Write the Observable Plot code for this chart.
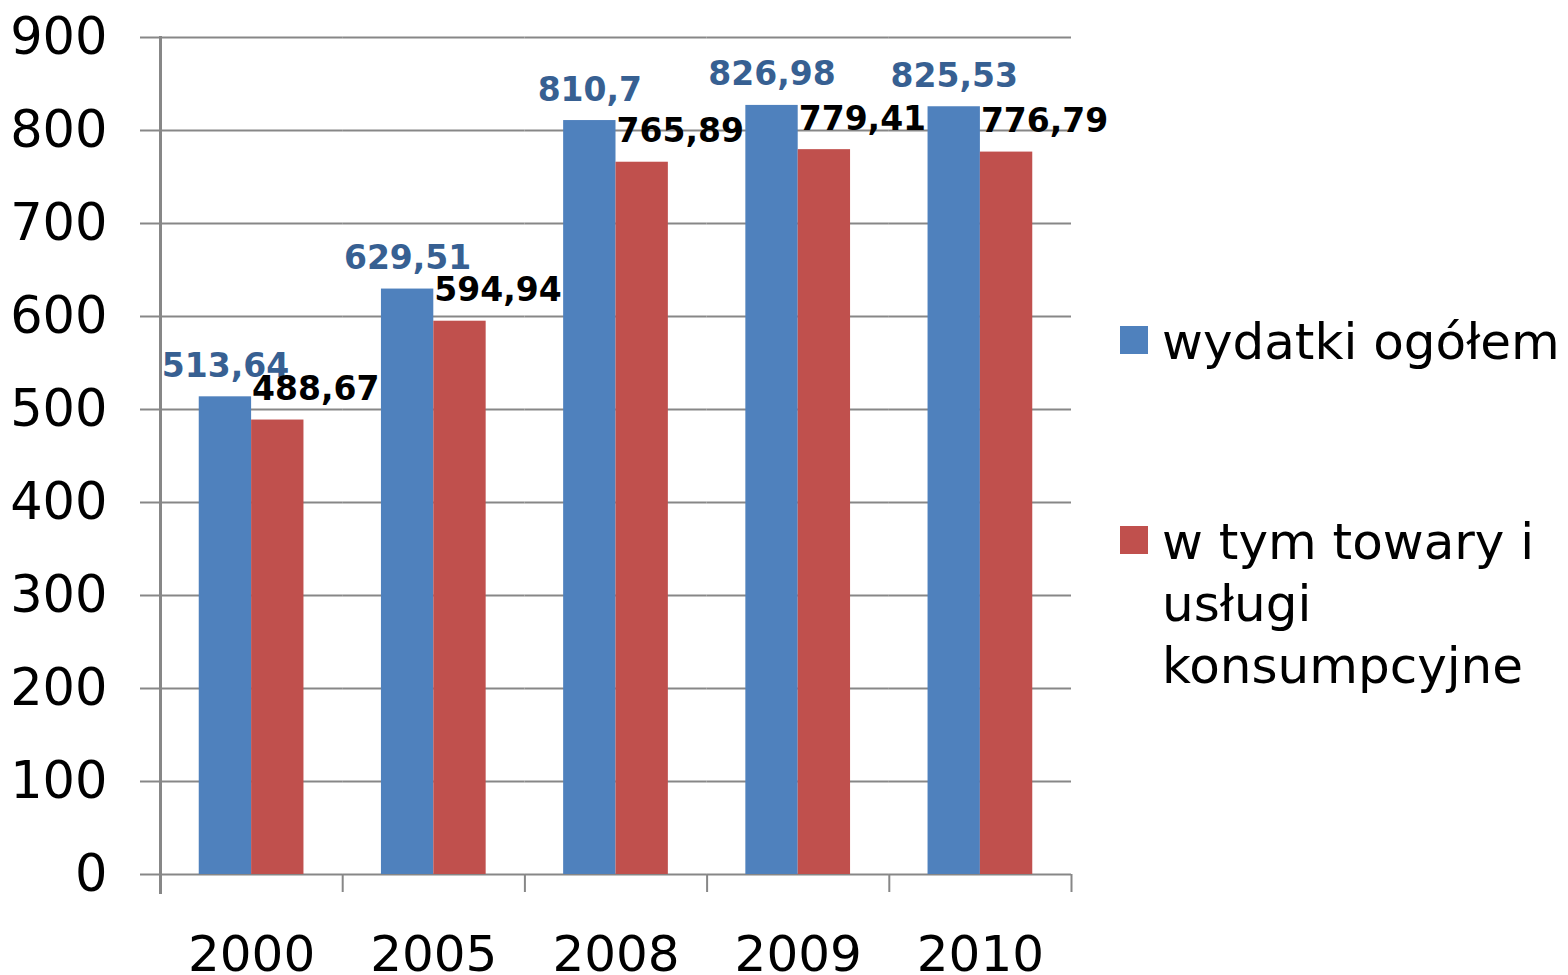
<!DOCTYPE html>
<html>
<head>
<meta charset="utf-8">
<script src="https://cdn.jsdelivr.net/npm/d3@7"></script>
<script src="https://cdn.jsdelivr.net/npm/@observablehq/plot@0.6"></script>
<style>
  html, body { margin: 0; padding: 0; background: white; }
  #wrap { position: relative; width: 1568px; height: 975px; overflow: hidden; font-family: "DejaVu Sans", Verdana, sans-serif; }
  .item { position: absolute; left: 1120px; display: flex; align-items: flex-start; font-size: 50px; line-height: 62px; color: black; }
  .sw { width: 28px; height: 28px; flex: none; margin-right: 14px; }
  .lbl { width: 406px; }
</style>
</head>
<body>
<div id="wrap"></div>
<script>
const years = ["2000", "2005", "2008", "2009", "2010"];
const total = [513.64, 629.51, 810.7, 826.98, 825.53];
const consumer = [488.67, 594.94, 765.89, 779.41, 776.79];
const seriesNames = ["wydatki ogółem", "w tym towary i usługi konsumpcyjne"];
const seriesColors = ["#4f81bd", "#c0504d"];
const yTicks = [0, 100, 200, 300, 400, 500, 600, 700, 800, 900];

const rows = years.flatMap((year, i) => [
  {year, series: seriesNames[0], value: total[i]},
  {year, series: seriesNames[1], value: consumer[i]}
]);
const fmt = v => String(v).replace(".", ",");

const W = 1568, H = 975, mL = 160, mR = 497, mT = 37, mB = 101;
const bw = (W - mL - mR) / years.length;
const grid = "#878787";

const chart = Plot.plot({
  width: W, height: H,
  marginLeft: mL, marginRight: mR, marginTop: mT, marginBottom: mB,
  style: {fontFamily: "DejaVu Sans, Verdana, sans-serif", background: "white", overflow: "visible", color: "black"},
  fx: {domain: years, padding: 0, label: null, round: false},
  x: {domain: seriesNames, paddingInner: 0, paddingOuter: 0.74, axis: null, round: false},
  y: {domain: [0, 900], label: null},
  color: {domain: seriesNames, range: seriesColors},
  marks: [
    Plot.ruleY(yTicks, {stroke: grid, strokeWidth: 2}),
    Plot.barY(rows, {fx: "year", x: "series", y: "value", fill: "series"}),
    Plot.frame({anchor: "left", facetAnchor: "left", stroke: grid, strokeWidth: 3, insetBottom: -18}),
    Plot.axisY({ticks: yTicks, tickSize: 20, tickPadding: 33, fontSize: 51, stroke: grid, strokeWidth: 2, fill: "black", label: null, tickFormat: d => String(d)}),
    Plot.axisFx({anchor: "bottom", tickSize: 0, tickPadding: 61, fontSize: 50, fill: "black", label: null}),
    Plot.axisFx({anchor: "bottom", tickSize: 18, dx: bw / 2, tickFormat: () => "", stroke: grid, strokeWidth: 2, label: null}),
    Plot.text(rows.filter(d => d.series === seriesNames[0]), {
      fx: "year", x: "series", y: "value", text: d => fmt(d.value),
      fill: "#376092", fontWeight: "bold", fontSize: 33, lineAnchor: "bottom", dy: -20
    }),
    Plot.text(rows.filter(d => d.series === seriesNames[1]), {
      fx: "year", x: "series", y: "value", text: d => fmt(d.value),
      fill: "black", fontWeight: "bold", fontSize: 33, lineAnchor: "bottom", dy: -20, dx: 38
    })
  ]
});

const wrap = document.getElementById("wrap");
wrap.appendChild(chart);

const tops = [311, 511];
seriesNames.forEach((name, i) => {
  const item = document.createElement("div");
  item.className = "item";
  item.style.top = tops[i] + "px";
  const sw = document.createElement("div");
  sw.className = "sw";
  sw.style.background = seriesColors[i];
  sw.style.marginTop = "15px";
  const lbl = document.createElement("div");
  lbl.className = "lbl";
  lbl.textContent = name;
  item.appendChild(sw);
  item.appendChild(lbl);
  wrap.appendChild(item);
});
</script>
</body>
</html>
